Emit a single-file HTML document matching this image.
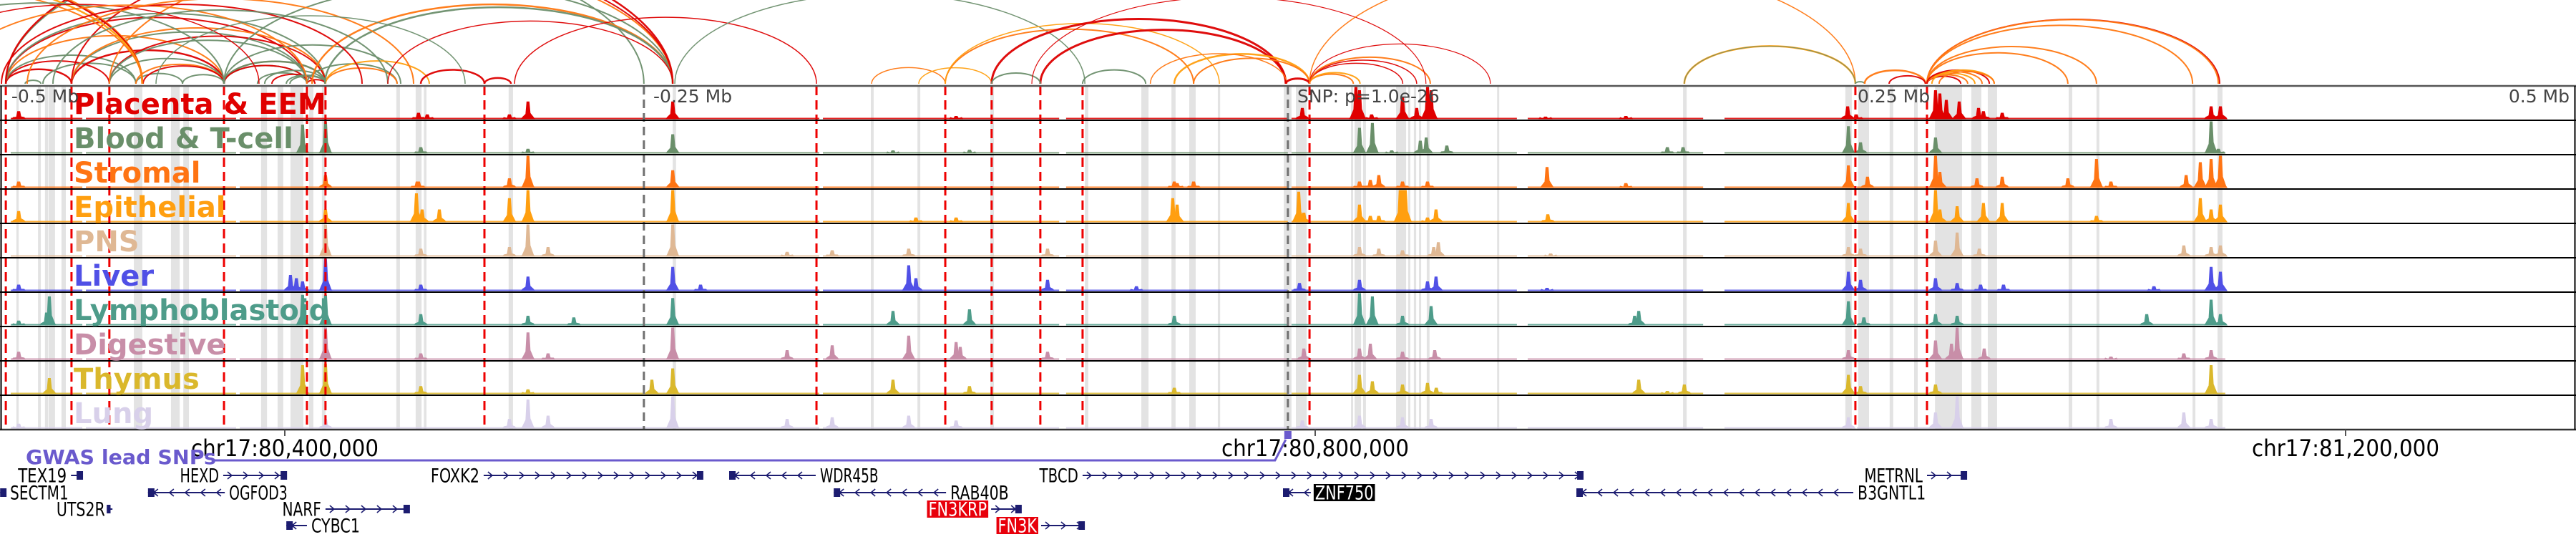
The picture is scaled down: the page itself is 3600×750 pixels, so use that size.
<!DOCTYPE html>
<html><head><meta charset="utf-8"><title>Regulatory tracks chr17</title>
<style>
html,body{margin:0;padding:0;background:#fff;}
svg{display:block;font-family:"DejaVu Sans","Liberation Sans",sans-serif;}
</style></head>
<body>
<svg id="chart" xmlns="http://www.w3.org/2000/svg" width="3600" height="750" viewBox="0 0 3600 750">
<rect x="0" y="0" width="3600" height="750" fill="#fff"/>
<defs><clipPath id="arcclip"><rect x="0" y="0" width="3600" height="118"/></clipPath></defs>
<g id="arcs" clip-path="url(#arcclip)"></g>
<g id="bands"></g>
<g id="signals"></g>
<g id="vlines"></g>
<g id="frame"></g>
<g id="labels"></g>
<g id="axis"></g>
<g id="genes"></g>
</svg>
<script>
// ---- data (genomic positions in kb from chr17:80,290,000) ----
const trackNames = ["Placenta & EEM","Blood & T-cell","Stromal","Epithelial","PNS","Liver","Lymphoblastoid","Digestive","Thymus","Lung"];
const trackColors = ["#e00000","#6a8f6a","#ff7413","#ff9f10","#dfb894","#5050e6","#4e9c8a","#c88ea8","#dab82c","#d8d0ea"];
const baselineSegments = [[3.6,31.4],[32.8,91.1],[92.5,317.5],[318.9,410.6],[413.3,499.4],[500.8,588.3],[592.5,660.6],[668.9,718.9],[720.3,863.3]];
const peaksPlacenta = [[6.7,.25],[161.9,.2],[165.3,.15],[197.2,.15],[204.4,.55],[260.6,.55],[370.6,.1],[505,.35],[525.8,1],[527.2,.9],[531.9,.15],[543.9,.7],[549.4,.35],[553.6,1],[555,.9],[599.4,.08],[630.6,.1],[716.7,.4],[720,.15],[750.8,.9],[752.5,.8],[755,.6],[760,.55],[767.5,.35],[769.4,.25],[776.7,.2],[857.8,.4],[861.4,.4]];
const peaksBlood = [[116.9,.9],[125.8,1],[162.8,.2],[204.4,.15],[260.6,.6],[346.1,.1],[375.8,.12],[527.2,.8],[532.2,.95],[550.8,.4],[553.1,.5],[561.1,.25],[539.7,.1],[646.7,.2],[652.8,.2],[717,.85],[721.7,.35],[750.8,.5],[857.8,1],[860.6,.15]];
const peaksStromal = [[6.7,.2],[125.8,.4],[161.4,.2],[161.9,.2],[197.2,.3],[204.4,1],[260.6,.55],[455.3,.2],[456.4,.15],[462.8,.2],[527.2,.2],[531.4,.25],[534.7,.4],[543.9,.2],[553.6,.2],[600,.65],[630.6,.15],[717,.7],[724.4,.35],[750.8,1],[752.5,.5],[766.9,.3],[776.7,.35],[802.2,.3],[813.3,.9],[818.9,.2],[848.1,.4],[853.6,.8],[857.8,.9],[861.4,1]];
const peaksEpithelial = [[6.7,.35],[125.8,.4],[161.1,.9],[163.3,.4],[170,.4],[197.2,.75],[204.4,1],[260.6,1],[355,.15],[370.6,.15],[454.7,.75],[456.4,.55],[503.6,.95],[505.6,.3],[527.2,.55],[531.4,.2],[534.7,.2],[543,1],[543.9,1],[545,1],[553.6,.15],[556.9,.4],[600.3,.25],[717,.6],[750.8,1],[752.5,.4],[759.2,.5],[769.4,.6],[776.7,.6],[813.3,.2],[853.6,.75],[857.8,.4],[861.4,.55]];
const peaksPNS = [[125.8,1],[162.8,.25],[197.2,.3],[204.4,1],[212.2,.3],[260.6,1],[305,.15],[322.5,.2],[352.2,.25],[406.1,.25],[527.2,.3],[534.7,.25],[543.9,.2],[556,.3],[557.8,.45],[601.4,.1],[717,.3],[721.7,.25],[750.8,.5],[759.2,.75],[767.8,.25],[847.2,.35],[857.8,.3],[861.4,.35]];
const peaksLiver = [[6.7,.2],[112.2,.5],[114.5,.4],[116.9,.3],[125.8,1],[162.8,.2],[204.4,.45],[260.6,.75],[271.4,.2],[352.2,.8],[355,.4],[406.1,.35],[440.6,.15],[503.9,.25],[527.2,.35],[553.6,.3],[556.9,.45],[600,.1],[717,.6],[721.7,.35],[750.8,.4],[759.2,.25],[768.3,.2],[777.2,.2],[835.6,.15],[857.8,.75],[861.4,.6]];
const peaksLympho = [[6.7,.15],[17.5,.4],[18.6,.9],[116.9,.95],[125.8,.95],[162.8,.35],[204.4,.3],[222.2,.25],[260.6,.85],[346.1,.45],[375.8,.5],[455.3,.3],[527.2,1],[532.2,.9],[543.9,.3],[555,.6],[634,.3],[635.6,.45],[717,.75],[723,.25],[750.8,.35],[759.2,.3],[832.8,.35],[857.8,.8],[861.4,.35]];
const peaksDigestive = [[6.7,.25],[125.8,1],[162.8,.2],[204.4,.85],[212.2,.2],[260.6,1],[305,.3],[322.5,.45],[352.2,.75],[370.6,.55],[372.2,.4],[406.1,.25],[505.6,.35],[527.2,.35],[531.4,.5],[543.9,.25],[556.4,.3],[717,.3],[750.8,.6],[757,.5],[759.2,1],[769.7,.35],[818.9,.1],[847.2,.2],[857.8,.3]];
const peaksThymus = [[18.6,.5],[116.9,.9],[125.8,.95],[162.8,.25],[204.4,.15],[252.5,.45],[260.6,.8],[346.1,.45],[375.8,.25],[455.3,.2],[527.2,.6],[532.2,.4],[543.9,.3],[553.6,.35],[557,.2],[635.6,.45],[646.7,.1],[653.3,.3],[717,.6],[721.7,.25],[750.8,.3],[857.8,.9]];
const peaksLung = [[6.7,.15],[125.8,.3],[197.2,.3],[204.4,.9],[212.2,.4],[260.6,1],[305,.3],[322.5,.35],[352.2,.4],[370.6,.25],[505,.25],[527.2,.4],[543.9,.35],[555,.3],[717,.35],[750.8,.5],[759.2,1],[818.9,.3],[847.2,.5],[857.8,.3]];
const trackPeaks = [peaksPlacenta,peaksBlood,peaksStromal,peaksEpithelial,peaksPNS,peaksLiver,peaksLympho,peaksDigestive,peaksThymus,peaksLung];
const grayBands = [[5.8,6.7],[14.2,15.3],[16.9,18.1],[18.3,20.8],[23.3,25],[51.4,54.7],[65.8,69.2],[70.6,72.8],[100.8,103.1],[107.2,109.4],[112.2,117.2],[119.4,121.1],[124.4,125.8],[153.3,154.7],[160.8,163.1],[164,165],[196.9,198.6],[260.6,261.9],[337.5,338.6],[355.6,356.7],[383.9,385.3],[420.6,421.9],[442.5,445.3],[454.2,455.8],[461.1,463.6],[472.2,473.1],[497.8,500.8],[502.5,506.7],[523.9,524.7],[525.3,527.8],[528.6,529.7],[541.4,545.3],[546.1,546.9],[548.3,549.2],[550.3,551.1],[553.3,554.4],[580.6,581.4],[652.8,654.2],[715.8,718.3],[720.8,725],[733,734.4],[742.5,743.9],[750.6,761.1],[764.7,768.6],[771.1,774.7],[802.5,803.9],[813.3,814.4],[850.6,851.7],[860.3,862.2]];
const redMarkers = [1.7,27.2,41.9,86.4,118.6,125.8,187.5,316.4,366.4,384.4,403.3,419.7,507.8,719.7,747.5];
const grayMarkers = [249.4,499.4];
const topTickLabels = ["-0.5 Mb","-0.25 Mb","SNP: p=1.0e-26","0.25 Mb","0.5 Mb"];
const topTickPos = [2.2,251.4,501.4,718.9,1000];
const bottomTickLabels = ["chr17:80,400,000","chr17:80,800,000","chr17:81,200,000"];
const bottomTickPos = [110,510,910];
// arcs: [startKb, endKb, colorIndex, width]
const arcColors = ["#dd0000","#6b8e6b","#ff7711","#ff9f0f"];
const arcs = [[1.7,27.2,0,2.5],[1.7,41.9,0,2],[1.7,52.2,1,2],[1.7,86.4,2,2],[1.7,118.6,0,2],[1.7,125.8,1,2],[1.7,249.4,1,2],[1.7,260.6,0,2.5],
[9.2,15.3,1,2],[16.1,52.2,1,2],[27.2,86.4,0,2.5],[27.2,118.6,1,2],[27.2,125.8,2,2],[41.9,86.4,1,2],[41.9,125.8,0,2],[41.9,118.6,1,2],[52.2,70.3,1,2],[52.2,86.4,2,2],[55,86.4,0,2],[70.3,86.4,1,2],
[86.4,118.6,1,2],[86.4,125.8,2,2],[86.4,125.8,1,2.5],[86.4,118.6,0,2],[99.4,118.6,1,2],[102.2,125.8,1,2],[105,121.7,0,2],[110.6,125.8,1,2],[112,125.8,1,2],[118.6,125.8,0,2],
[86.4,155,1,2],[118.6,153.6,1,2],[125.8,153.6,2,2],[125.8,166.1,3,2],[120.6,260.6,2,2.5],[125.6,260.6,1,2.5],[86.4,260.6,1,2],[41.9,260.6,2,2],[27.2,260.6,0,2],
[-166,54.7,2,3],[-160,54.7,0,2],[-140,54.7,3,2.5],[-120,54.7,2,2],[-56.1,86.4,1,2],[-40,100,0,1.5],[-20,118.6,2,2],[0,140,0,2],[10,160,2,2],[20,150,1,2],
[162.8,187.5,0,2.5],[187.5,197.8,0,2.5],[199.2,316.4,0,1.5],[261.4,420.6,1,1.5],[150,260.6,0,1.5],[60,180,1,1.5],[337.8,366.4,2,1.5],[356.1,384.4,3,1.5],
[366.4,462.8,2,2],[366.4,472.8,3,1.5],[384.4,498.6,0,3],[403.3,498.6,0,3],[384.4,403.3,1,2],[419.7,444.2,1,2],[455.3,507.8,3,2.5],[462.8,507.8,2,2],[446,499,2,1.5],
[498.6,507.8,0,3],[507.8,524.8,2,2],[507.8,527.4,3,2],[507.8,544,0,1.5],[507.8,549.4,0,1.5],[507.8,554.7,2,2],[507.8,578,0,1.2],[400,553,0,1.2],
[507.8,719.7,2,1.5],[653.3,719.7,3,2.5],[653.3,719.7,1,1],[719.7,723.3,1,2],[723.3,746.9,2,2.5],[732.8,746.9,0,2],
[747.5,861.1,0,2],[747.5,860.6,2,2],[747.5,850.6,2,2],[747.5,813.3,2,2],[747.5,802.2,2,2],[747.5,760.6,0,2],[747.5,763.3,2,2],[747.5,766.1,3,2],[747.5,768.9,2,2],[747.5,771.7,0,2],[749.4,773.6,3,2],[752.2,773.6,2,2]];
// genes: [name, startKb, endKb, strand, row, labelSide, labelStyle]
const genes = [["TEX19",27,31.4,1,0,"L","plain"],["SECTM1",-0.5,1.7,-1,1,"R","plain"],["UTS2R",41.9,43.1,1,2,"L","plain"],["HEXD",86.1,110.6,1,0,"L","plain"],
["OGFOD3",56.9,86.7,-1,1,"R","plain"],["NARF",125.8,158.3,1,2,"L","plain"],["CYBC1",110.6,118.6,-1,3,"R","plain"],["FOXK2",187.2,272.2,1,0,"L","plain"],
["WDR45B",282.5,316.1,-1,0,"R","plain"],["RAB40B",323.1,366.7,-1,1,"R","plain"],["FN3KRP",384.2,395.8,1,2,"L","red"],["FN3K",403.6,420.3,1,3,"L","red"],
["TBCD",419.7,613.9,1,0,"L","plain"],["ZNF750",497.5,508.3,-1,1,"R","black"],["B3GNTL1",611.4,718.9,-1,1,"R","plain"],["METRNL",747.5,762.8,1,0,"L","plain"]];
const gwasSnps = [499.4];

// ---- helpers ----
const NS = "http://www.w3.org/2000/svg";
const X0 = 2, PXKB = 3.6;
function xs(kb){ return X0 + kb * PXKB; }
const TRACK_TOP = 120, TRACK_H = 48, MAXH = 45;
function trackBase(i){ return TRACK_TOP + (i + 1) * TRACK_H - 1.5; }
function mk(tag, attrs, parent){
  const el = document.createElementNS(NS, tag);
  for (const k in attrs) el.setAttribute(k, attrs[k]);
  parent.appendChild(el);
  return el;
}
const gArcs = document.getElementById("arcs"), gBands = document.getElementById("bands"),
      gSig = document.getElementById("signals"), gV = document.getElementById("vlines"),
      gFrame = document.getElementById("frame"), gLab = document.getElementById("labels"),
      gAxis = document.getElementById("axis"), gGenes = document.getElementById("genes");

// arcs
const ARC_BASE = 117;
arcs.forEach(a => {
  const x1 = xs(a[0]), x2 = xs(a[1]);
  const rx = (x2 - x1) / 2, ry = rx * 0.44;
  const p = mk("path", {d:`M${x1},${ARC_BASE} A${rx},${ry} 0 0 1 ${x2},${ARC_BASE}`, fill:"none", stroke:arcColors[a[2]], "stroke-width":a[3], opacity:0.95}, gArcs);
  
  
});

// gray bands
grayBands.forEach(b => {
  const r = mk("rect", {x:xs(b[0]), y:TRACK_TOP, width:Math.max(3, xs(b[1]) - xs(b[0])), height:TRACK_H*10, fill:"#e3e3e3"}, gBands);
  
  
});

// signals
trackPeaks.forEach((peaks, i) => {
  const base = trackBase(i), col = trackColors[i];
  const g = mk("g", {}, gSig);
  
  
  baselineSegments.forEach(s => {
    const r = mk("rect", {x:xs(s[0]), y:base - 2, width:xs(s[1]) - xs(s[0]), height:2, fill:col, opacity:0.85}, g);
    
    
  });
  peaks.forEach(p => {
    const x = xs(p[0]), h = Math.min(MAXH, p[1] * MAXH);
    const pts = [[x-10,base],[x-8,base-3],[x-3.5,base-h*0.3],[x-2,base-h],[x+2,base-h],[x+3.5,base-h*0.35],[x+8,base-3],[x+10,base]].map(q => q.join(",")).join(" ");
    const pg = mk("polygon", {points:pts, fill:col}, g);
    
    
  });
});

// marker lines
redMarkers.forEach(m => {
  const l = mk("line", {x1:xs(m), x2:xs(m), y1:TRACK_TOP, y2:TRACK_TOP + TRACK_H*10, stroke:"#ee0000", "stroke-width":3, "stroke-dasharray":"13,7"}, gV);
  
  
});
grayMarkers.forEach(m => {
  const l = mk("line", {x1:xs(m), x2:xs(m), y1:TRACK_TOP, y2:TRACK_TOP + TRACK_H*10, stroke:"#707070", "stroke-width":3, "stroke-dasharray":"12,7"}, gV);
  
  
});

// frame
for (let i = 1; i < 10; i++){
  const l = mk("line", {x1:0, x2:3600, y1:TRACK_TOP + i*TRACK_H, y2:TRACK_TOP + i*TRACK_H, stroke:"#000", "stroke-width":2}, gFrame);
  
  
}
const topL = mk("line", {x1:0, x2:3600, y1:TRACK_TOP, y2:TRACK_TOP, stroke:"#555", "stroke-width":2.5}, gFrame);


const botL = mk("line", {x1:0, x2:3600, y1:600, y2:600, stroke:"#333", "stroke-width":2.5}, gFrame);


const leftL = mk("line", {x1:1.5, x2:1.5, y1:TRACK_TOP, y2:600, stroke:"#000", "stroke-width":2}, gFrame);


const rightL = mk("line", {x1:3598.5, x2:3598.5, y1:TRACK_TOP, y2:600, stroke:"#000", "stroke-width":2}, gFrame);



// track labels
trackNames.forEach((n, i) => {
  const t = mk("text", {x:103, y:TRACK_TOP + i*TRACK_H + 39, fill:trackColors[i], "font-size":40, "font-weight":"bold"}, gLab);
  t.textContent = n;
  
  
});

// top tick labels
topTickLabels.forEach((s, i) => {
  const last = i === topTickLabels.length - 1;
  const t = mk("text", {x:last ? 3591 : xs(topTickPos[i]) + 6, y:143, fill:"#444", "font-size":25, "text-anchor":last ? "end" : "start"}, gAxis);
  t.textContent = s;
  
  
});

// bottom ticks
bottomTickLabels.forEach((s, i) => {
  const x = xs(bottomTickPos[i]);
  const tk = mk("line", {x1:x, x2:x, y1:600, y2:609, stroke:"#555", "stroke-width":2}, gAxis);
  
  
  const t = mk("text", {x:x, y:637, fill:"#000", "font-size":32, "text-anchor":"middle", textLength:262, lengthAdjust:"spacingAndGlyphs"}, gAxis);
  t.textContent = s;
  
  
});

// GWAS
const gw = mk("text", {x:36, y:648, fill:"#6a5acd", "font-size":28, "font-weight":"bold", textLength:266, lengthAdjust:"spacingAndGlyphs"}, gGenes);
gw.textContent = "GWAS lead SNPs";


gwasSnps.forEach(s => {
  const x = xs(s);
  const pl = mk("polyline", {points:`298,643 ${x-18},643 ${x-3},614`, fill:"none", stroke:"#6a5acd", "stroke-width":3}, gGenes);
  
  
  const r = mk("rect", {x:x-5, y:602, width:10, height:11, fill:"#6a5acd"}, gGenes);
  
  
});

// genes
const rowY = [664, 688, 711, 734];
genes.forEach(g => {
  const [name, s, e, strand, row, side, style] = g;
  const y = rowY[row], x1 = xs(s), x2 = xs(e);
  const grp = mk("g", {}, gGenes);
  
  
  const ln = mk("line", {x1:x1, x2:x2, y1:y, y2:y, stroke:"#1c1c70", "stroke-width":2}, grp);
  
  
  for (let x = x1 + 10; x < x2 - 6; x += 22){
    const d = strand > 0 ? `M${x-4},${y-5} L${x+2},${y} L${x-4},${y+5}` : `M${x+4},${y-5} L${x-2},${y} L${x+4},${y+5}`;
    const ch = mk("path", {d:d, fill:"none", stroke:"#1c1c70", "stroke-width":1.6}, grp);
    
    
  }
  const bx = strand > 0 ? x2 - 8 : x1;
  const ex = mk("rect", {x:bx, y:y-6, width:Math.min(9, x2 - x1 + 1), height:12, fill:"#1c1c70"}, grp);
  
  
  const approxW = name.length * 13.6 + 4;
  const lx = side === "L" ? x1 - 4 : x2 + 4;
  if (style !== "plain"){
    const bgx = side === "L" ? lx - approxW : lx;
    const bg = mk("rect", {x:bgx, y:y-12, width:approxW, height:24, fill:style === "red" ? "#e8000b" : "#000"}, grp);
    
    
  }
  const t = mk("text", {x:side === "L" ? lx - 2 : lx + 2, y:y + 9.5, fill:style === "plain" ? "#000" : "#fff", "font-size":27, "text-anchor":side === "L" ? "end" : "start", textLength:approxW - 4, lengthAdjust:"spacingAndGlyphs"}, grp);
  t.textContent = name;
  
  
});
</script>
</body></html>
